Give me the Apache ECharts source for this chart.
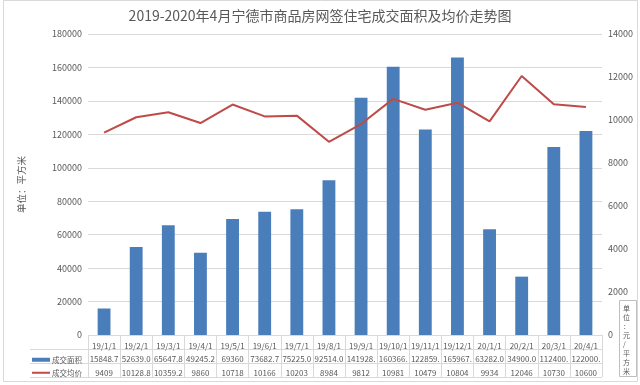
<!DOCTYPE html>
<html><head><meta charset="utf-8">
<script src="https://cdn.jsdelivr.net/npm/echarts@6/dist/echarts.min.js"></script>
<style>html,body{margin:0;padding:0;background:#fff}#c{width:640px;height:385px}</style>
</head><body><div id="c"></div>
<script>
const categories = ['19/1/1','19/2/1','19/3/1','19/4/1','19/5/1','19/6/1','19/7/1','19/8/1','19/9/1','19/10/1','19/11/1','19/12/1','20/1/1','20/2/1','20/3/1','20/4/1'];
const areaValues = [15848.7, 52639.0, 65647.8, 49245.2, 69360, 73682.7, 75225.0, 92514.0, 141928.0, 160366.0, 122859.0, 165967.0, 63282.0, 34900.0, 112400.0, 122000.0];
const priceValues = [9409, 10128.8, 10359.2, 9860, 10718, 10166, 10203, 8984, 9812, 10981, 10479, 10804, 9934, 12046, 10730, 10600];
const areaText = ['15848.7','52639.0','65647.8','49245.2','69360','73682.7','75225.0','92514.0','141928.','160366.','122859.','165967.','63282.0','34900.0','112400.','122000.'];
const priceText = priceValues.map(v => String(v));
const leftTicks = {min: 0, max: 180000, interval: 20000};
const rightTicks = {min: 0, max: 14000, interval: 2000};

const FONT = "'Noto Sans CJK SC','Noto Sans',sans-serif";
const TXT = '#595959';
const GRIDC = '#d9d9d9';
const TS = 8;
const chart = echarts.init(document.getElementById('c'));
chart.setOption({
  backgroundColor: '#fff',
  textStyle: {fontFamily: FONT},
  title: {text: '2019-2020年4月宁德市商品房网签住宅成交面积及均价走势图', left: 'center', top: 4,
    textStyle: {fontSize: 14, fontWeight: 'normal', color: TXT, fontFamily: FONT}},
  legend: [
    {data: ['成交面积'], left: 27, top: 351, itemWidth: 18, itemHeight: 4, itemGap: 4, icon: 'rect',
      textStyle: {fontSize: 7.5, color: TXT, fontFamily: FONT, padding: [0,0,0,-3]}},
    {data: ['成交均价'], left: 27, top: 364, itemWidth: 18, itemHeight: 2, itemGap: 4, icon: 'rect',
      textStyle: {fontSize: 7.5, color: TXT, fontFamily: FONT, padding: [0,0,0,-3]}}
  ],
  grid: [
    {left: 88, right: 38, top: 34, bottom: 50},
    {left: 88, right: 38, top: 335, height: 42},
    {left: 30, width: 58, top: 349, height: 28}
  ],
  xAxis: [
    {type: 'category', gridIndex: 0, data: categories,
      axisLine: {show: false}, axisTick: {show: false},
      axisLabel: {interval: 0, margin: 4, fontFamily: FONT,
        formatter: (v, i) => '{c|' + v + '}\n{a|' + areaText[i] + '}\n{p|' + priceText[i] + '}',
        rich: {c: {fontSize: TS, color: TXT, lineHeight: 13.5, fontFamily: FONT},
               a: {fontSize: TS, color: TXT, lineHeight: 13.5, fontFamily: FONT},
               p: {fontSize: TS, color: TXT, lineHeight: 13.5, fontFamily: FONT}}}},
    {type: 'category', gridIndex: 1, data: categories,
      axisLine: {show: false}, axisTick: {show: false}, axisLabel: {show: false},
      splitLine: {show: true, interval: 0, lineStyle: {color: GRIDC}}},
    {type: 'value', gridIndex: 2, show: false}
  ],
  yAxis: [
    {type: 'value', gridIndex: 0, min: leftTicks.min, max: leftTicks.max, interval: leftTicks.interval,
      name: '单位：平方米', nameLocation: 'middle', nameGap: 62, nameRotate: 90,
      nameTextStyle: {fontSize: 9.5, color: TXT, fontFamily: FONT},
      axisLine: {show: false}, axisTick: {show: false},
      axisLabel: {fontSize: 9, color: TXT, margin: 6, fontFamily: FONT, formatter: v => String(v)},
      splitLine: {lineStyle: {color: GRIDC}}},
    {type: 'value', gridIndex: 0, position: 'right', min: rightTicks.min, max: rightTicks.max, interval: rightTicks.interval,
      axisLine: {show: false}, axisTick: {show: false},
      axisLabel: {fontSize: 9, color: TXT, margin: 6, fontFamily: FONT, formatter: v => String(v)},
      splitLine: {show: false}},
    {type: 'value', gridIndex: 1, min: 0, max: 3, interval: 1,
      axisLine: {show: false}, axisTick: {show: false}, axisLabel: {show: false},
      splitLine: {show: true, lineStyle: {color: GRIDC}}},
    {type: 'value', gridIndex: 2, min: 0, max: 2, interval: 1,
      axisLine: {show: false}, axisTick: {show: false}, axisLabel: {show: false},
      splitLine: {show: true, lineStyle: {color: GRIDC}}}
  ],
  series: [
    {name: '成交面积', type: 'bar', xAxisIndex: 0, yAxisIndex: 0, data: areaValues,
      barWidth: '40%', itemStyle: {color: '#4a7ebb'}},
    {name: '成交均价', type: 'line', xAxisIndex: 0, yAxisIndex: 1, data: priceValues,
      symbol: 'none', lineStyle: {color: '#be4b48', width: 2}, itemStyle: {color: '#be4b48'}}
  ],
  graphic: [
    {type: 'rect', shape: {x: 3.5, y: 0.5, width: 634, height: 381}, style: {fill: 'none', stroke: '#d9d9d9', lineWidth: 1}, silent: true},
    {type: 'rect', shape: {x: 619.5, y: 300.5, width: 17, height: 76}, style: {fill: '#fff', stroke: '#bfbfbf', lineWidth: 1}, silent: true},
    {type: 'text', left: 623, top: 304, style: {text: '单\n位\n：\n元\n/\n平\n方\n米', fontSize: 7, lineHeight: 9, fill: TXT, fontFamily: FONT, align: 'center'}, silent: true}
  ]
});
</script></body></html>
